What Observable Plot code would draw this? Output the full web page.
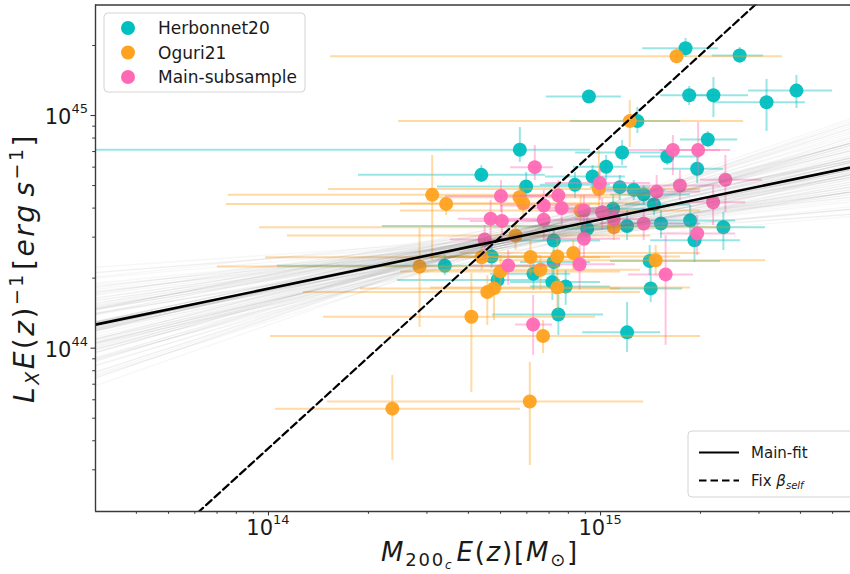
<!DOCTYPE html>
<html>
<head>
<meta charset="utf-8">
<script src="https://cdn.jsdelivr.net/npm/d3@7"></script>
<script src="https://cdn.jsdelivr.net/npm/@observablehq/plot@0.6"></script>
<style>
  body { margin: 0; background: #fff; }
  #chart { width: 850px; height: 574px; overflow: hidden; position: relative; }
  #chart svg { overflow: hidden; }
</style>
</head>
<body>
<div id="chart"></div>
<script>
// Cluster samples: log10 of M200c E(z) [Msun] and log10 of L_X E(z)^-1 [erg/s],
// with the lower / upper ends of the error bars (also log10).

// Herbonnet20
const herbLogM   = [15.256,15.419,15.267,15.340,15.500,15.590,14.965,15.111,15.323,15.065,14.757,15.201,15.291,15.017,14.976,14.641,14.776,14.923,15.058,15.100,15.130,15.161,15.038,14.960,15.080,15.182,15.270,15.370,15.283,14.859,14.531,14.672,14.690,14.798,14.855,14.895,14.859,15.148,15.151,14.873,15.080];
const herbLogMLo = [15.127,15.337,15.181,15.271,15.340,15.446,14.837,14.910,15.241,14.925,13.300,15.120,15.190,14.919,14.834,14.271,14.509,14.819,14.970,15.000,15.030,15.075,14.880,14.834,14.343,15.060,15.151,15.271,15.151,14.759,14.027,14.488,14.389,14.669,14.729,14.789,14.759,15.030,15.030,14.675,14.946];
const herbLogMHi = [15.355,15.491,15.361,15.446,15.617,15.699,15.063,15.241,15.413,15.196,14.970,15.301,15.370,15.081,15.075,14.834,14.925,15.030,15.151,15.196,15.271,15.271,15.151,15.090,15.271,15.301,15.407,15.497,15.422,15.000,14.880,14.819,14.880,14.910,15.000,15.030,14.970,15.361,15.247,15.009,15.181];
const herbLogL   = [45.289,45.258,45.087,45.087,45.057,45.107,45.082,44.976,44.897,44.841,44.853,44.824,44.771,44.780,44.738,44.745,44.695,44.702,44.692,44.681,44.661,44.618,44.599,44.513,44.525,44.536,44.549,44.520,44.464,44.463,44.354,44.394,44.293,44.320,44.284,44.265,44.370,44.375,44.257,44.145,44.068];
const herbLogLLo = [45.249,45.223,45.043,44.991,44.931,45.030,45.056,44.923,44.862,44.785,44.798,44.785,44.708,44.721,44.686,44.712,44.635,44.643,44.635,44.635,44.613,44.570,44.540,44.441,44.463,44.471,44.484,44.420,44.368,44.407,44.312,44.343,44.239,44.248,44.205,44.184,44.312,44.312,44.196,44.055,43.982];
const herbLogLHi = [45.331,45.292,45.125,45.163,45.155,45.172,45.107,45.034,44.931,44.893,44.948,44.858,44.828,44.828,44.785,44.785,44.755,44.755,44.742,44.721,44.699,44.656,44.656,44.570,44.592,44.592,44.613,44.583,44.527,44.514,44.398,44.441,44.343,44.386,44.343,44.334,44.420,44.441,44.355,44.227,44.196];

// Oguri21
const oguLogM   = [15.229,15.088,14.493,14.535,14.756,14.767,14.995,14.940,15.040,14.744,14.455,14.642,14.789,14.870,14.918,14.819,14.699,14.659,14.679,14.870,14.611,14.827,14.373,14.787,15.166];
const oguLogMLo = [14.187,14.392,13.879,13.873,14.488,14.398,14.181,14.398,13.973,14.057,13.846,13.991,14.488,14.548,14.578,14.458,14.398,14.105,14.277,14.488,14.166,14.006,14.021,14.178,14.639];
const oguLogMHi = [15.548,15.431,15.151,15.000,15.060,15.120,15.301,15.301,15.392,15.151,14.880,15.000,15.030,15.241,15.301,15.120,15.060,15.120,15.060,15.271,14.985,15.301,14.759,15.130,15.497];
const oguLogL   = [45.255,44.976,44.659,44.620,44.649,44.623,44.684,44.592,44.520,44.484,44.351,44.391,44.392,44.394,44.409,44.337,44.330,44.241,44.257,44.261,44.135,44.052,43.740,43.771,44.378];
const oguLogLLo = [45.223,44.862,44.377,44.570,44.592,44.570,44.613,44.527,44.463,44.420,44.089,44.334,44.312,44.312,44.334,44.248,44.248,44.098,44.119,44.162,43.810,43.977,43.518,43.496,44.312];
const oguLogLHi = [45.288,45.064,44.828,44.648,44.699,44.678,44.850,44.656,44.570,44.549,44.514,44.450,44.463,44.471,44.463,44.398,44.398,44.312,44.334,44.334,44.321,44.119,43.883,43.939,44.441];

// Main-subsample
const mainLogM   = [14.802,14.700,14.873,14.998,15.218,15.294,15.169,15.239,15.376,14.883,14.829,14.950,15.005,14.669,14.703,14.829,15.040,15.130,15.339,14.950,14.651,14.722,14.937,15.291,15.196,14.797];
const mainLogMLo = [14.729,14.533,14.759,14.834,15.081,15.181,15.015,15.120,15.301,14.759,14.699,14.819,14.880,14.572,14.608,14.714,14.925,15.000,15.241,14.834,14.548,14.608,14.819,15.181,15.084,14.744];
const mainLogMHi = [14.858,14.880,15.000,15.151,15.361,15.392,15.301,15.361,15.488,15.030,14.970,15.060,15.120,14.819,14.819,14.970,15.151,15.271,15.437,15.060,14.759,14.834,15.045,15.407,15.280,14.855];
const mainLogL   = [44.778,44.654,44.656,44.710,44.852,44.852,44.673,44.699,44.724,44.602,44.613,44.592,44.584,44.556,44.547,44.552,44.555,44.536,44.627,44.470,44.467,44.355,44.361,44.493,44.317,44.102];
const mainLogLLo = [44.721,44.583,44.570,44.635,44.742,44.742,44.592,44.635,44.583,44.527,44.549,44.514,44.506,44.463,44.463,44.463,44.484,44.463,44.527,44.386,44.377,44.270,44.248,44.398,44.012,43.969];
const mainLogLHi = [44.871,44.721,44.721,44.772,44.914,44.970,44.742,44.764,44.828,44.656,44.678,44.656,44.643,44.635,44.613,44.635,44.613,44.600,44.699,44.540,44.527,44.420,44.441,44.570,44.484,44.227];

// Scaling relations: log10 L = norm + slope * (log10 M - pivot)
const mainFit = { norm: 44.553, slope: 0.297, pivot: 15 };
const selfFit = { norm: 44.870, slope: 1.30,  pivot: 15 };

// Posterior draws of the main fit (normalisation at log10 M = 14.7, slope)
const drawPivot = 14.7;
const drawNorm  = [44.46,44.48,44.44,44.47,44.45,44.50,44.42,44.46,44.47,44.43,
                   44.49,44.45,44.47,44.48,44.44,44.41,44.51,44.46,44.45,44.47,
                   44.49,44.43,44.44,44.48,44.46,44.45,44.52,44.40,44.47,44.46,
                   44.43,44.49,44.45,44.47,44.46,44.44,44.46,44.48,44.45,44.47,
                   44.47,44.45,44.49,44.43,44.46,44.48,44.44,44.50,44.45,44.46,
                   44.48,44.42,44.46,44.47,44.51,44.44,44.45,44.47,44.43,44.49,
                   44.47,44.45,44.44,44.48,44.50,44.42,44.46,44.46,44.43,44.49,
                   44.47,44.45,44.44,44.48,44.46,44.47,44.52,44.40,44.45,44.47,
                   44.48,44.44,44.46,44.46,44.43,44.49,44.45,44.47,44.46,44.46,
                   44.44,44.48,44.45,44.47,44.46,44.46,44.49,44.43,44.47,44.45];
const drawSlope = [0.30,0.27,0.33,0.24,0.36,0.29,0.31,0.21,0.39,0.26,
                   0.34,0.28,0.32,0.18,0.42,0.25,0.35,0.30,0.23,0.37,
                   0.15,0.45,0.28,0.32,0.20,0.40,0.27,0.33,0.12,0.48,
                   0.29,0.31,0.22,0.38,0.26,0.34,0.17,0.43,0.30,0.29,
                   0.31,0.28,0.25,0.35,0.19,0.41,0.32,0.27,0.14,0.46,
                   0.30,0.33,0.24,0.36,0.28,0.31,0.21,0.39,0.26,0.34,
                   0.10,0.50,0.16,0.44,0.22,0.38,0.13,0.47,0.27,0.33,
                   0.19,0.41,0.24,0.36,0.11,0.49,0.29,0.31,0.20,0.40,
                   0.26,0.34,0.16,0.44,0.23,0.37,0.28,0.32,0.18,0.42,
                   0.30,0.25,0.35,0.21,0.39,0.29,0.31,0.13,0.47,0.30];

// Axis ticks
const xMajor = [1e14, 1e15];
const xMinor = [4e13,5e13,6e13,7e13,8e13,9e13,2e14,3e14,4e14,5e14,6e14,7e14,8e14,9e14,2e15,3e15,4e15,5e15];
const yMajor = [1e44, 1e45];
const yMinor = [3e43,4e43,5e43,6e43,7e43,8e43,9e43,2e44,3e44,4e44,5e44,6e44,7e44,8e44,9e44,2e45];

const surveys = [
  { name: "Herbonnet20",    color: "#00bfbf", m: herbLogM, mLo: herbLogMLo, mHi: herbLogMHi, l: herbLogL, lLo: herbLogLLo, lHi: herbLogLHi },
  { name: "Oguri21",        color: "#ffa21f", m: oguLogM,  mLo: oguLogMLo,  mHi: oguLogMHi,  l: oguLogL,  lLo: oguLogLLo,  lHi: oguLogLHi },
  { name: "Main-subsample", color: "#ff69b4", m: mainLogM, mLo: mainLogMLo, mHi: mainLogMHi, l: mainLogL, lLo: mainLogLLo, lHi: mainLogLHi }
];

const xDomain = [10 ** 13.479, 10 ** 15.798];
const yDomain = [10 ** 43.298, 10 ** 45.475];
const logXEnds = [Math.log10(xDomain[0]), Math.log10(xDomain[1])];

const rowsOf = s => s.m.map((_, i) => ({
  m: 10 ** s.m[i], mLo: 10 ** s.mLo[i], mHi: 10 ** s.mHi[i],
  l: 10 ** s.l[i], lLo: 10 ** s.lLo[i], lHi: 10 ** s.lHi[i]
}));

const relation = (fit, id) => logXEnds.map(lm => ({
  id, m: 10 ** lm, l: 10 ** (fit.norm + fit.slope * (lm - fit.pivot))
}));

const drawRows = drawNorm.flatMap((n, i) =>
  relation({ norm: n, slope: drawSlope[i], pivot: drawPivot }, i));

const dataMarks = surveys.flatMap(s => {
  const rows = rowsOf(s);
  return [
    Plot.ruleY(rows, { x1: "mLo", x2: "mHi", y: "l", stroke: s.color, strokeOpacity: 0.4, strokeWidth: 2, clip: true }),
    Plot.ruleX(rows, { x: "m", y1: "lLo", y2: "lHi", stroke: s.color, strokeOpacity: 0.4, strokeWidth: 2, clip: true }),
    Plot.dot(rows, { x: "m", y: "l", r: 7, fill: s.color, fillOpacity: 0.95, stroke: "none", clip: true })
  ];
});

const axisColor = "#3a3a3a";

const plot = Plot.plot({
  width: 850,
  height: 574,
  marginLeft: 95,
  marginRight: 0,
  marginTop: 4.5,
  marginBottom: 63,
  style: { fontFamily: "'DejaVu Sans', sans-serif", fontSize: "12px", color: "#222", background: "white" },
  x: { type: "log", domain: xDomain, range: [95, 865] },
  y: { type: "log", domain: yDomain, range: [511, 4.5] },
  marks: [
    ...dataMarks,
    Plot.line(drawRows, { x: "m", y: "l", z: "id", stroke: "#707070", strokeOpacity: 0.055, strokeWidth: 1.3, clip: true }),
    Plot.line(relation(mainFit, "main"), { x: "m", y: "l", stroke: "black", strokeWidth: 2.6, clip: true }),
    Plot.line(relation(selfFit, "self"), { x: "m", y: "l", stroke: "black", strokeWidth: 2.2, strokeDasharray: "7.5,4", clip: true }),
    Plot.axisX(xMinor, { anchor: "bottom", tickSize: 2.8, tickFormat: () => "", stroke: axisColor, strokeWidth: 1, label: null }),
    Plot.axisX(xMajor, { anchor: "bottom", tickSize: 4.5, tickFormat: () => "", stroke: axisColor, strokeWidth: 1.1, label: null }),
    Plot.axisY(yMinor, { anchor: "left", tickSize: 2.8, tickFormat: () => "", stroke: axisColor, strokeWidth: 1, label: null }),
    Plot.axisY(yMajor, { anchor: "left", tickSize: 4.5, tickFormat: () => "", stroke: axisColor, strokeWidth: 1.1, label: null }),
    Plot.ruleX([xDomain[0]], { stroke: axisColor, strokeWidth: 1.4 }),
    Plot.ruleY([yDomain[0]], { stroke: axisColor, strokeWidth: 1.4 }),
    Plot.ruleY([yDomain[1]], { stroke: axisColor, strokeWidth: 1.4 })
  ]
});

document.getElementById("chart").appendChild(plot);

// Math-style tick labels, axis titles and legends
const svg = d3.select(plot);
const xs = plot.scale("x"), ys = plot.scale("y");
const FONT = "'DejaVu Sans', sans-serif";
const ink = "#1a1a1a";

function powerLabel(g, x, y, anchor, v) {
  const exp = Math.round(Math.log10(v));
  const t = g.append("text").attr("x", x).attr("y", y).attr("text-anchor", anchor)
    .attr("font-family", FONT).attr("fill", ink);
  t.append("tspan").attr("font-size", 21).text("10");
  t.append("tspan").attr("font-size", 13).attr("dy", -11).text(String(exp));
}

const labels = svg.append("g");
xMajor.forEach(v => powerLabel(labels, xs.apply(v), 535, "middle", v));
yMajor.forEach(v => powerLabel(labels, 88, ys.apply(v) + 9, "end", v));

// x title: M_{200_c} E(z) [M_sun]
const xt = labels.append("text").attr("x", 480).attr("y", 561).attr("text-anchor", "middle")
  .attr("font-family", FONT).attr("font-size", 26).attr("letter-spacing", 1.8).attr("fill", ink);
xt.append("tspan").attr("font-style", "italic").text("M");
xt.append("tspan").attr("font-size", 18).attr("dy", 5).text("200");
xt.append("tspan").attr("font-size", 12).attr("font-style", "italic").attr("dy", 3).text("c");
xt.append("tspan").attr("font-style", "italic").attr("dy", -8).attr("dx", 3).text("E");
xt.append("tspan").text("(");
xt.append("tspan").attr("font-style", "italic").text("z");
xt.append("tspan").text(")[");
xt.append("tspan").attr("font-style", "italic").text("M");
xt.append("tspan").attr("font-size", 18).attr("dy", 5).text("⊙");
xt.append("tspan").attr("dy", -5).text("]");

// y title: L_X E(z)^{-1} [erg s^{-1}]
const yt = labels.append("text").attr("transform", "translate(34,268) rotate(-90)").attr("text-anchor", "middle")
  .attr("font-family", FONT).attr("font-size", 28).attr("letter-spacing", 2.5).attr("fill", ink);
yt.append("tspan").attr("font-style", "italic").text("L");
yt.append("tspan").attr("font-size", 19).attr("font-style", "italic").attr("dy", 5).text("X");
yt.append("tspan").attr("font-style", "italic").attr("dy", -5).text("E");
yt.append("tspan").text("(");
yt.append("tspan").attr("font-style", "italic").text("z");
yt.append("tspan").text(")");
yt.append("tspan").attr("font-size", 19).attr("dy", -11).text("−1");
yt.append("tspan").attr("dy", 11).attr("dx", 2).text("[");
yt.append("tspan").attr("font-style", "italic").text("erg");
yt.append("tspan").attr("font-style", "italic").attr("dx", 6).text("s");
yt.append("tspan").attr("font-size", 19).attr("dy", -11).text("−1");
yt.append("tspan").attr("dy", 11).text("]");

// Legend: samples
const lg1 = svg.append("g").attr("text-anchor", "start");
lg1.append("rect").attr("x", 104).attr("y", 13).attr("width", 201).attr("height", 79).attr("rx", 4)
  .attr("fill", "white").attr("fill-opacity", 0.8).attr("stroke", "#d4d4d4");
surveys.forEach((s, i) => {
  const cy = 28 + i * 24.5;
  lg1.append("circle").attr("cx", 128).attr("cy", cy).attr("r", 7).attr("fill", s.color);
  lg1.append("text").attr("x", 158).attr("y", cy + 6).attr("text-anchor", "start")
    .attr("font-family", FONT).attr("font-size", 17).attr("fill", ink).text(s.name);
});

// Legend: relations
const lg2 = svg.append("g").attr("text-anchor", "start");
lg2.append("rect").attr("x", 688).attr("y", 431).attr("width", 190).attr("height", 66).attr("rx", 4)
  .attr("fill", "white").attr("fill-opacity", 0.8).attr("stroke", "#d4d4d4");
lg2.append("line").attr("x1", 699).attr("x2", 739).attr("y1", 452.5).attr("y2", 452.5)
  .attr("stroke", "black").attr("stroke-width", 2.2);
lg2.append("line").attr("x1", 699).attr("x2", 739).attr("y1", 480.5).attr("y2", 480.5)
  .attr("stroke", "black").attr("stroke-width", 2.2).attr("stroke-dasharray", "7.5,4");
lg2.append("text").attr("x", 751).attr("y", 458).attr("text-anchor", "start")
  .attr("font-family", FONT).attr("font-size", 15).attr("fill", ink).text("Main-fit");
const fx = lg2.append("text").attr("x", 751).attr("y", 486).attr("text-anchor", "start")
  .attr("font-family", FONT).attr("font-size", 15).attr("fill", ink);
fx.append("tspan").text("Fix ");
fx.append("tspan").attr("font-style", "italic").text("β");
fx.append("tspan").attr("font-style", "italic").attr("font-size", 10).attr("dy", 3).text("self");
</script>
</body>
</html>
